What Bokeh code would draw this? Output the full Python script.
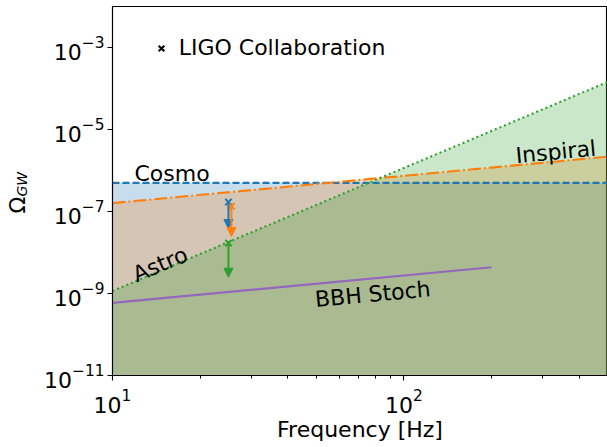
from bokeh.plotting import figure
from bokeh.models import (ColumnDataSource, FixedTicker, Label, Legend, LegendItem,
                          Arrow, NormalHead, Range1d)
from bokeh.core.properties import value
from bokeh.embed import file_html
from bokeh.resources import INLINE

# ---------------- data ----------------
freq_full = [10, 500]
cosmo = [5e-7, 5e-7]
inspiral = [1.6e-7, 2.17e-6]
astro = [1.15e-9, 1.44e-4]
freq_bbh = [10, 200]
bbh_stoch = [5.9e-10, 4.35e-9]
omega_floor = [1e-11, 1e-11]

ul_freq = [25.0, 25.6, 25.0]
ul_value = [1.7e-7, 1.35e-7, 1.7e-8]
ul_tip = [3.85e-8, 2.45e-8, 2.5e-9]
ul_colors = ["#1f77b4", "#ff7f0e", "#2ca02c"]

x_major = [10, 100]
x_minor = [20, 30, 40, 50, 60, 70, 80, 90, 200, 300, 400]
y_major = [1e-11, 1e-9, 1e-7, 1e-5, 1e-3]

BLUE, ORANGE, GREEN, PURPLE = "#1f77b4", "#ff7f0e", "#2ca02c", "#9467bd"
FONT = "DejaVu Sans"

p = figure(x_axis_type="log", y_axis_type="log",
           x_range=Range1d(10, 500), y_range=Range1d(1e-11, 1e-2),
           frame_width=495, frame_height=369,
           min_border_left=112, min_border_right=0, min_border_top=6, min_border_bottom=72,
           output_backend="svg", toolbar_location=None)
p.background_fill_color = "white"
p.border_fill_color = "white"
p.grid.visible = False
p.outline_line_color = "black"
p.outline_line_width = 1.1

# fills
p.varea(x=freq_full, y1=omega_floor, y2=cosmo, fill_color=BLUE, fill_alpha=0.25)
p.varea(x=freq_full, y1=omega_floor, y2=inspiral, fill_color=ORANGE, fill_alpha=0.25)
p.varea(x=freq_full, y1=omega_floor, y2=astro, fill_color=GREEN, fill_alpha=0.25)

# lines
p.line(freq_full, cosmo, line_color=BLUE, line_width=2.1, line_dash="7 3")
p.line(freq_full, inspiral, line_color=ORANGE, line_width=2.1, line_dash="13 3 2 3")
p.line(freq_full, astro, line_color=GREEN, line_width=2.1, line_dash="2 3")
p.line(freq_bbh, bbh_stoch, line_color=PURPLE, line_width=2.1)

# upper limits with arrows
for xf, yv, yt, c in zip(ul_freq, ul_value, ul_tip, ul_colors):
    src = ColumnDataSource(dict(x0=[xf], y0=[yv], y1=[yt]))
    p.add_layout(Arrow(x_start="x0", y_start="y0", x_end="x0", y_end="y1", source=src,
                       line_color=c, line_width=2,
                       end=NormalHead(size=9, fill_color=c, line_color=c, line_width=1)))
ul_src = ColumnDataSource(dict(x=ul_freq, y=ul_value, c=ul_colors))
p.scatter("x", "y", source=ul_src, marker="x", size=9, line_width=2, line_color="c")

# curve labels
TXT = dict(text_font=value(FONT), text_font_size="22px", text_color="black",
           text_align="left", text_baseline="alphabetic")
p.text(x=[11.9], y=[8.3e-7], text=["Cosmo"], angle=0, **TXT)
p.text(x=[242], y=[2.3e-6], text=["Inspiral"], angle=0.094, **TXT)
p.text(x=[11.83], y=[2.75e-9], text=["Astro"], angle=0.40, **TXT)
p.text(x=[49.6], y=[7.1e-10], text=["BBH Stoch"], angle=0.094, **TXT)

# legend (entry only; its marker is not part of the data)
r_leg = p.scatter(x=[float("nan")], y=[float("nan")], marker="x", size=8,
                  line_color="black", line_width=2)
legend = Legend(items=[LegendItem(label="LIGO Collaboration", renderers=[r_leg])],
                location=(38.7, 314.7), padding=0, margin=0, border_line_color=None,
                background_fill_alpha=0, label_text_font=FONT, label_text_font_size="22px",
                label_text_color="black",
                glyph_width=20, glyph_height=20, label_standoff=8)
p.add_layout(legend)

# axes
for ax in (p.xaxis[0], p.yaxis[0]):
    ax.major_label_text_font = FONT
    ax.major_label_text_font_size = "22px"
    ax.major_label_text_color = "black"
    ax.axis_line_width = 1.1
    ax.axis_line_color = "black"
    ax.major_tick_line_width = 1.1
    ax.minor_tick_line_width = 1.0
    ax.major_tick_out = 5
    ax.major_tick_in = 0
    ax.minor_tick_out = 3
    ax.minor_tick_in = 0
p.xaxis.major_label_standoff = 8
p.yaxis.major_label_standoff = 3
p.xaxis.ticker = FixedTicker(ticks=x_major, minor_ticks=x_minor)
p.yaxis.ticker = FixedTicker(ticks=y_major, minor_ticks=[])
p.xaxis.axis_label = "Frequency [Hz]"
p.xaxis.axis_label_text_font = FONT
p.xaxis.axis_label_text_font_size = "22px"
p.xaxis.axis_label_text_font_style = "normal"
p.xaxis.axis_label_text_color = "black"
p.xaxis.axis_label_standoff = 1

# y-axis label Omega_GW (placed in the left side panel so it is not clipped)
p.add_layout(Label(x=17, y=213, x_units="canvas", y_units="canvas", text="Ω",
                   angle=90, angle_units="deg", text_font=FONT, text_font_size="22px",
                   text_color="black", text_align="left", text_baseline="alphabetic"), "left")
p.add_layout(Label(x=21, y=196, x_units="canvas", y_units="canvas", text="GW",
                   angle=90, angle_units="deg", text_font=FONT, text_font_size="14px",
                   text_color="black", text_font_style="italic",
                   text_align="left", text_baseline="alphabetic"), "left")

open("out.html", "w").write(file_html(p, INLINE))
